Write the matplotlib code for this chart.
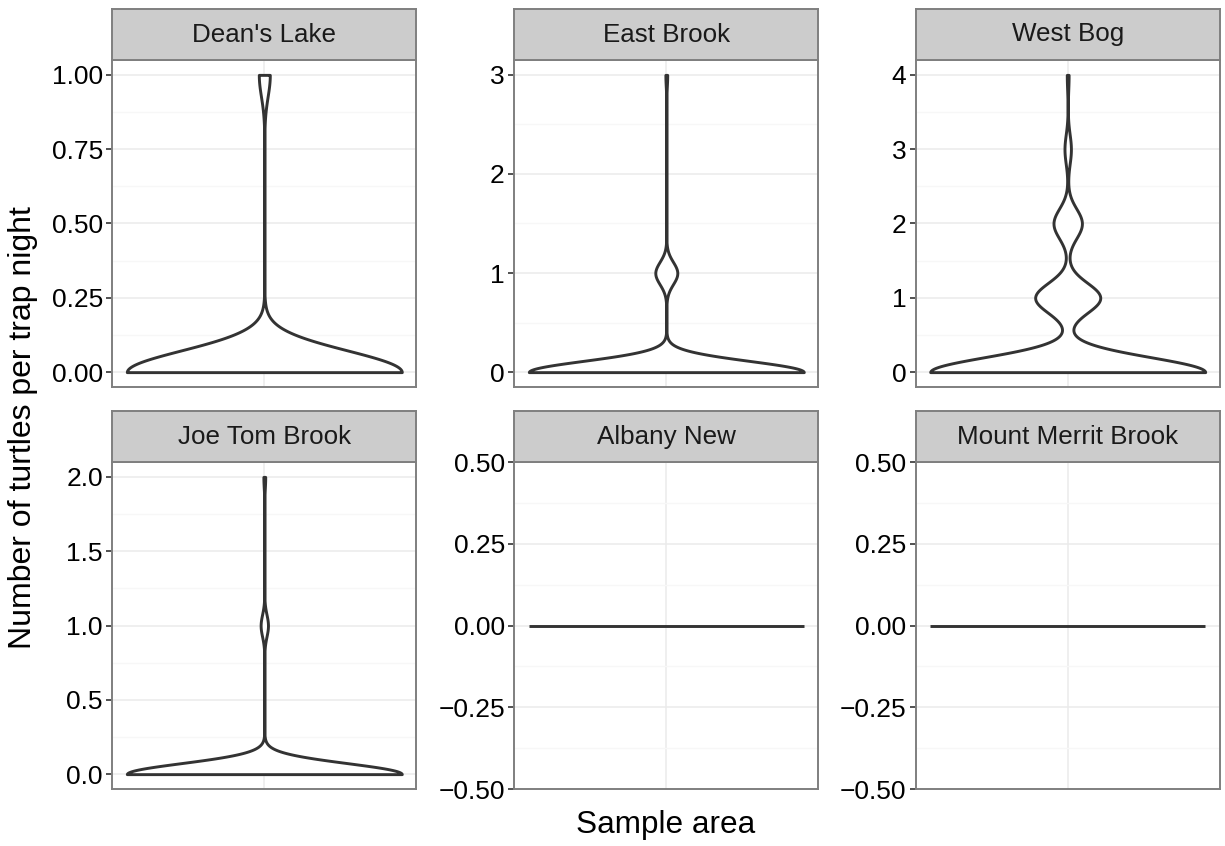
import numpy as np
import matplotlib
matplotlib.use("Agg")
import matplotlib.pyplot as plt
from matplotlib.ticker import MultipleLocator, AutoMinorLocator, FuncFormatter

plt.rcParams['font.family'] = ['Liberation Sans', 'DejaVu Sans']

# sites, in facet order
sites = ["Dean's Lake", "East Brook", "West Bog",
         "Joe Tom Brook", "Albany New", "Mount Merrit Brook"]

# number of trap nights with 0, 1, 2, ... turtles caught
deans_lake = [75, 3]
east_brook = [150, 12, 0, 1]
west_bog = [300, 71, 31, 7, 2]
joe_tom_brook = [150, 4, 1]
albany_new = [40]
mount_merrit_brook = [40]
counts = [deans_lake, east_brook, west_bog, joe_tom_brook, albany_new, mount_merrit_brook]

tick_steps = [0.25, 1, 1, 0.5, 0.25, 0.25]
tick_formats = ["%.2f", "%d", "%d", "%.1f", "%.2f", "%.2f"]

W, H = 1225, 846
col_x = [112.3, 514.3, 915.7]
panel_w = 304
row_top = [60, 462]
panel_h = 327
strip_h = 51

def nrd0(kde):
    # R's default bandwidth, as a factor of the sample sd
    x = kde.dataset.ravel()
    sd = x.std(ddof=1)
    q75, q25 = np.percentile(x, [75, 25])
    lo = min(sd, (q75 - q25) / 1.34)
    if lo == 0:
        lo = sd
    return 0.9 * lo * len(x) ** -0.2 / sd

fig = plt.figure(figsize=(W / 100, H / 100), dpi=100)

for i, site in enumerate(sites):
    r, c = divmod(i, 3)
    x0 = col_x[c]
    y0 = row_top[r]
    ax = fig.add_axes([x0 / W, 1 - (y0 + panel_h) / H, panel_w / W, panel_h / H])
    sax = fig.add_axes([x0 / W, 1 - y0 / H, panel_w / W, strip_h / H])

    data = np.repeat(np.arange(len(counts[i])), counts[i]).astype(float)
    lo, hi = data.min(), data.max()
    if hi > lo:
        parts = ax.violinplot([data], positions=[1], widths=0.9, showextrema=False,
                              points=512, bw_method=nrd0)
        for b in parts['bodies']:
            b.set_facecolor('white')
            b.set_edgecolor('#333333')
            b.set_linewidth(2.1)
            b.set_alpha(1)
            b.set_zorder(3)
        pad = 0.05 * (hi - lo)
        ax.set_ylim(lo - pad, hi + pad)
    else:
        ax.hlines(lo, 1 - 0.45, 1 + 0.45, color='#333333', lw=2.1, zorder=3)
        ax.set_ylim(lo - 0.5, hi + 0.5)

    ax.set_xlim(1 - 0.4975, 1 + 0.4975)
    ax.set_xticks([1])
    ax.set_xticklabels([])
    ax.tick_params(axis='x', length=0)
    ax.yaxis.set_major_locator(MultipleLocator(tick_steps[i]))
    ax.yaxis.set_minor_locator(AutoMinorLocator(2))
    fmt = tick_formats[i]
    ax.yaxis.set_major_formatter(FuncFormatter(lambda v, p, f=fmt: (f % v).replace('-', '\u2212')))
    ax.tick_params(axis='y', which='major', length=4.3, width=1.2, color='#333333',
                   pad=2.5, labelsize=19, labelcolor='black')
    ax.tick_params(axis='y', which='minor', length=0)
    ax.grid(True, which='major', color='#EBEBEB', lw=1.1)
    ax.grid(True, which='minor', axis='y', color='#F7F7F7', lw=1.0)
    ax.set_axisbelow(True)
    for s in ax.spines.values():
        s.set_color('#7F7F7F')
        s.set_linewidth(1.4)
        s.set_zorder(5)

    sax.set_facecolor('#CCCCCC')
    sax.set_xticks([])
    sax.set_yticks([])
    for s in sax.spines.values():
        s.set_color('#7F7F7F')
        s.set_linewidth(1.4)
    sax.text(0.5, 0.5, site, transform=sax.transAxes, ha='center', va='center',
             fontsize=18.7, color='#1A1A1A')

fig.text(666 / W, 1 - 833 / H, "Sample area", ha='center', va='baseline', fontsize=22.7)
fig.text(23.5 / W, 1 - 427.5 / H, "Number of turtles per trap night", ha='center',
         va='center', rotation=90, fontsize=23)

fig.savefig("out.png", dpi=100)
